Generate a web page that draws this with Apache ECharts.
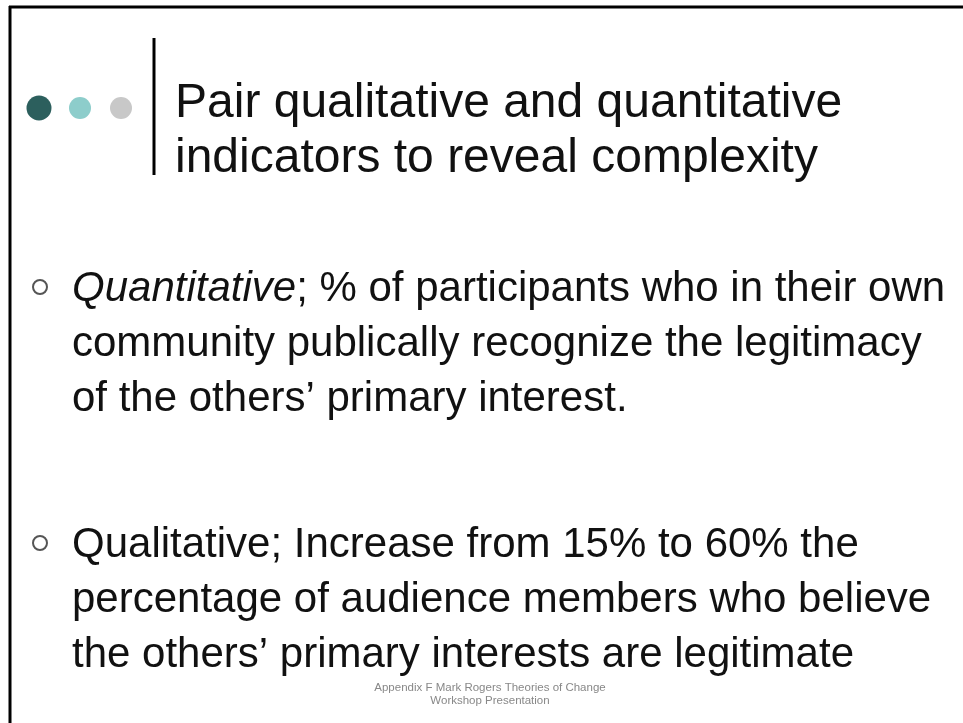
<!DOCTYPE html>
<html>
<head>
<meta charset="utf-8">
<script src="https://cdn.jsdelivr.net/npm/echarts@6/dist/echarts.min.js"></script>
<style>
html,body{margin:0;padding:0;background:#fff;}
#chart{width:963px;height:723px;}
</style>
</head>
<body>
<div id="chart"></div>
<script>
// Data
var dotCategories = ['dot1', 'dot2', 'dot3'];
var dotValues = [1, 1, 1];
var dotColors = ['#2c5f5d', '#8dcdcb', '#c8c8c8'];
var titleLines = ['Pair qualitative and quantitative', 'indicators to reveal complexity'];
var bullet1Lines = ['{i|Quantitative}; % of participants who in their own', 'community publically recognize the legitimacy', 'of the others\u2019 primary interest.'];
var bullet2Lines = ['Qualitative; Increase from 15% to 60% the', 'percentage of audience members who believe', 'the others\u2019 primary interests are legitimate'];
var footerLines = ['Appendix F Mark Rogers Theories of Change', 'Workshop Presentation'];

var chart = echarts.init(document.getElementById('chart'), null, {renderer: 'canvas'});
var FONT = '"Liberation Sans", Arial, sans-serif';

var graphics = [
  // border
  {type: 'line', shape: {x1: 9, y1: 7, x2: 963, y2: 7}, style: {stroke: '#000', lineWidth: 3}},
  {type: 'line', shape: {x1: 10, y1: 6, x2: 10, y2: 723}, style: {stroke: '#000', lineWidth: 3}},
  // title divider
  {type: 'line', shape: {x1: 154, y1: 38, x2: 154, y2: 175}, style: {stroke: '#000', lineWidth: 3}},
  // title
  {type: 'text', x: 175, y: 76, style: {text: titleLines.join('\n'), font: '48px ' + FONT, fill: '#111', lineHeight: 55, verticalAlign: 'top'}},
  // bullets
  {type: 'circle', shape: {cx: 40, cy: 287, r: 7}, style: {fill: 'none', stroke: '#555', lineWidth: 2}},
  {type: 'circle', shape: {cx: 40, cy: 543, r: 7}, style: {fill: 'none', stroke: '#555', lineWidth: 2}},
  {type: 'text', x: 72, y: 262, style: {text: bullet1Lines.join('\n'), font: '42px ' + FONT, fill: '#111', lineHeight: 55, verticalAlign: 'top',
    rich: {i: {font: 'italic 42px ' + FONT, fill: '#111', lineHeight: 55}}}},
  {type: 'text', x: 72, y: 518, style: {text: bullet2Lines.join('\n'), font: '42px ' + FONT, fill: '#111', lineHeight: 55, verticalAlign: 'top'}},
  // footer
  {type: 'text', x: 490, y: 681, style: {text: footerLines.join('\n'), font: '11.5px ' + FONT, fill: '#888', lineHeight: 13, align: 'center', verticalAlign: 'top'}}
];

chart.setOption({
  animation: false,
  backgroundColor: '#fff',
  grid: {left: 18.5, top: 96, width: 123, height: 24},
  xAxis: {type: 'category', data: dotCategories, show: false, boundaryGap: true},
  yAxis: {type: 'value', min: 0, max: 2, show: false},
  series: [{
    type: 'scatter',
    data: dotValues.map(function (v, i) {
      return {value: v, itemStyle: {color: dotColors[i], opacity: 1}, symbolSize: i === 0 ? 25 : 22};
    }),
    itemStyle: {opacity: 1},
    silent: true
  }],
  graphic: graphics
});
</script>
</body>
</html>
